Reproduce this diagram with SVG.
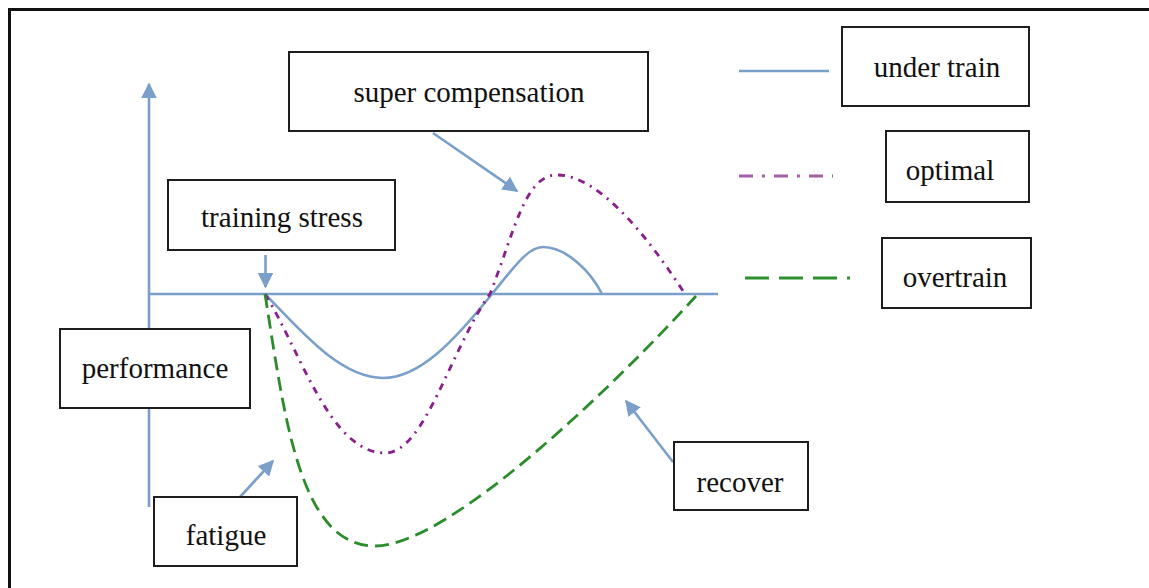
<svg xmlns="http://www.w3.org/2000/svg" width="1149" height="588" viewBox="0 0 1149 588">
<defs>
<style>
.box{fill:#fff;stroke:#1e1e1e;stroke-width:2}
.lbl{font-family:"Liberation Serif","Times New Roman",serif;font-size:29px;fill:#111;text-anchor:middle}
.ax{fill:none;stroke:#7a9fc9;stroke-width:2.6}
.blue{fill:none;stroke:#7a9fc9;stroke-width:2.6}
.purple{fill:none;stroke:#8a1f8c;stroke-width:2.8;stroke-dasharray:7 6 2 6}
.green{fill:none;stroke:#2a8c2a;stroke-width:2.8;stroke-dasharray:14 7}
</style>
<marker id="ah" viewBox="0 0 10 10" refX="9" refY="5" markerWidth="6" markerHeight="6" markerUnits="strokeWidth" orient="auto">
<path d="M0,0 L10,5 L0,10 Z" fill="#7a9fc9"/>
</marker>
</defs>
<rect width="1149" height="588" fill="#fff"/>
<g id="frame">
<line x1="8" y1="9.5" x2="1149" y2="9.5" stroke="#111" stroke-width="3"/>
<line x1="9.5" y1="8" x2="9.5" y2="588" stroke="#111" stroke-width="3"/>
</g>
<g id="connectors">
<line class="ax" x1="149" y1="507" x2="149" y2="84" marker-end="url(#ah)"/>
<line class="ax" x1="150" y1="294" x2="718" y2="294"/>
<line class="ax" x1="265.5" y1="255" x2="265.5" y2="287" marker-end="url(#ah)"/>
<line class="ax" x1="433" y1="133" x2="517" y2="191" marker-end="url(#ah)"/>
<line class="ax" x1="240" y1="497" x2="273" y2="461" marker-end="url(#ah)"/>
<line class="ax" x1="673" y1="462" x2="626" y2="401" marker-end="url(#ah)"/>
<path class="blue" d="M265,294 C300,330 340,378 383,378 C420,378 455,340 492,294 C515,266 528,247 543,247 C565,247 590,270 602,294"/>
<path class="purple" d="M265,294 C300,350 330,453 385,453 C425,453 450,350 490,294 C515,230 525,175 557,175 C600,175 650,240 685,294"/>
<path class="green" d="M265,294 C285,420 300,546 375,546 C450,546 620,380 696,296"/>
<line x1="739" y1="71" x2="829" y2="71" stroke="#7a9fc9" stroke-width="2.5"/>
<line x1="739" y1="176" x2="833" y2="176" stroke="#a35fa8" stroke-width="3" stroke-dasharray="14 9 3 9"/>
<line x1="745" y1="278" x2="850" y2="278" stroke="#2f8f2f" stroke-width="3" stroke-dasharray="24 10"/>
</g>
<g id="super-compensation"><rect class="box" x="289" y="52" width="359" height="79"/><text class="lbl" x="469" y="102">super compensation</text></g>
<g id="training-stress"><rect class="box" x="168" y="180" width="227" height="70"/><text class="lbl" x="282" y="227">training stress</text></g>
<g id="performance"><rect class="box" x="60" y="329" width="190" height="79"/><text class="lbl" x="155" y="378">performance</text></g>
<g id="fatigue"><rect class="box" x="154" y="497" width="143" height="69"/><text class="lbl" x="226" y="545">fatigue</text></g>
<g id="recover"><rect class="box" x="674" y="442" width="134" height="68"/><text class="lbl" x="740" y="492">recover</text></g>
<g id="under-train"><rect class="box" x="842" y="27" width="187" height="79"/><text class="lbl" x="937" y="77">under train</text></g>
<g id="optimal"><rect class="box" x="886" y="131" width="143" height="71"/><text class="lbl" x="950" y="180">optimal</text></g>
<g id="overtrain"><rect class="box" x="882" y="238" width="149" height="70"/><text class="lbl" x="955" y="287">overtrain</text></g>
</svg>
